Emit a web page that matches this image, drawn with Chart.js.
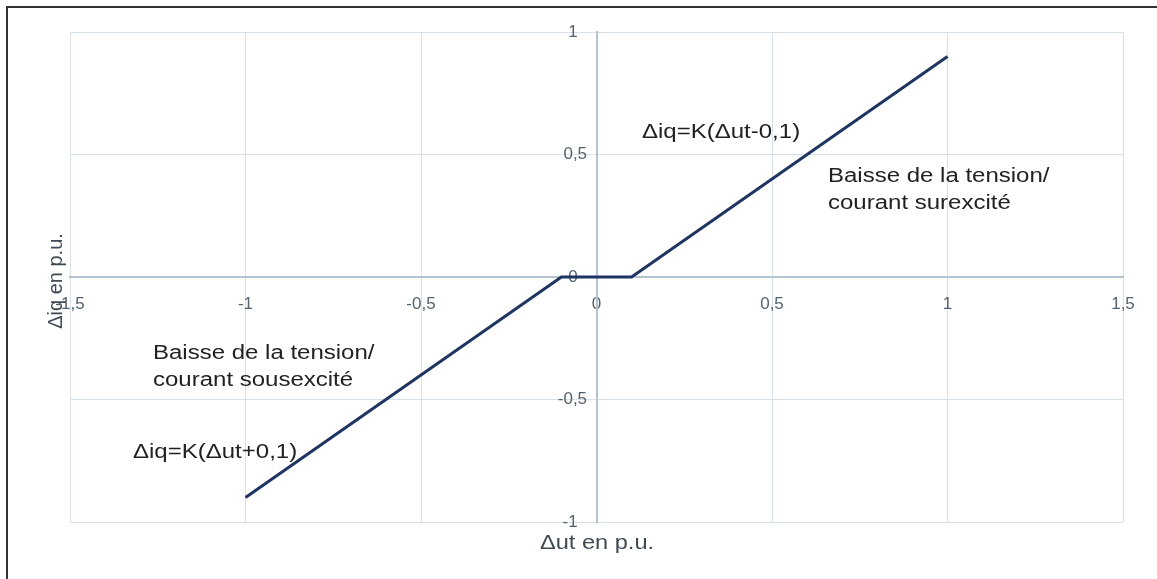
<!DOCTYPE html>
<html>
<head>
    <title>Δiq en fonction de Δut</title>
    <style>
        body {
            margin: 0;
            padding: 0;
            background: #ffffff;
        }
        #wrap {
            width: 1157px;
            height: 579px;
        }
    </style>
    <script src="https://cdn.jsdelivr.net/npm/chart.js"></script>
</head>
<body>
    <div id="wrap">
        <canvas id="statismChart" width="1157" height="579"></canvas>
    </div>

    <script>
        // characteristic points (Δut, Δiq)
        const deltaUt = [-1, -0.1, 0.1, 1];
        const deltaIq = [-0.9, 0, 0, 0.9];

        // tick labels, French decimal comma
        const xTickLabels = ['-1,5', '-1', '-0,5', '0', '0,5', '1', '1,5'];
        const yTickLabels = ['-1', '-0,5', '0', '0,5', '1'];

        const xTitle = 'Δut en p.u.';
        const yTitle = 'Δiq en p.u.';
        const notes = [
            'Δiq=K(Δut-0,1)',
            'Baisse de la tension/',
            'courant surexcité',
            'Baisse de la tension/',
            'courant sousexcité',
            'Δiq=K(Δut+0,1)'
        ];

        const gridColor = '#d6e1e9';
        const axisColor = '#b3c4d0';
        const tickColor = '#52626f';
        const fontFamily = '"Liberation Sans", Arial, sans-serif';

        // draws stretched text (the source picture is widened horizontally)
        const stretchText = (ctx, text, x, y, size, color, stretch) => {
            ctx.save();
            ctx.translate(x, y);
            ctx.scale(stretch, 1);
            ctx.font = size + 'px ' + fontFamily;
            ctx.fillStyle = color;
            ctx.textBaseline = 'middle';
            ctx.fillText(text, 0, 0);
            ctx.restore();
        };

        const decorations = {
            id: 'decorations',
            beforeDraw(chart) {
                const ctx = chart.ctx;
                ctx.save();
                ctx.fillStyle = '#ffffff';
                ctx.fillRect(0, 0, chart.width, chart.height);
                ctx.restore();
            },
            afterDraw(chart) {
                const ctx = chart.ctx;

                // picture frame (only left and top edges are visible)
                ctx.save();
                ctx.strokeStyle = '#333333';
                ctx.lineWidth = 2;
                ctx.beginPath();
                ctx.moveTo(7, chart.height);
                ctx.lineTo(7, 7);
                ctx.lineTo(chart.width, 7);
                ctx.stroke();
                ctx.restore();

                // axis titles
                ctx.save();
                ctx.font = '20px ' + fontFamily;
                const w = ctx.measureText(xTitle).width * 1.18;
                ctx.restore();
                stretchText(ctx, xTitle, 597 - w / 2, 543, 20, '#3f4a55', 1.18);

                ctx.save();
                ctx.translate(56, 281);
                ctx.rotate(-Math.PI / 2);
                ctx.font = '20px ' + fontFamily;
                ctx.fillStyle = '#3f4a55';
                ctx.textAlign = 'center';
                ctx.textBaseline = 'middle';
                ctx.fillText(yTitle, 0, 0);
                ctx.restore();

                // annotations
                stretchText(ctx, notes[0], 642, 132, 20, '#222222', 1.2);
                stretchText(ctx, notes[1], 828, 176, 20, '#222222', 1.2);
                stretchText(ctx, notes[2], 828, 203, 20, '#222222', 1.2);
                stretchText(ctx, notes[3], 153, 353, 20, '#222222', 1.2);
                stretchText(ctx, notes[4], 153, 380, 20, '#222222', 1.2);
                stretchText(ctx, notes[5], 133, 452, 20, '#222222', 1.2);
            }
        };

        const ctx = document.getElementById('statismChart').getContext('2d');
        const chart = new Chart(ctx, {
            type: 'scatter',
            data: {
                datasets: [{
                    data: deltaUt.map((x, i) => ({ x: x, y: deltaIq[i] })),
                    showLine: true,
                    borderColor: '#1e3564',
                    borderWidth: 3,
                    pointRadius: 0,
                    tension: 0
                }]
            },
            options: {
                responsive: false,
                animation: false,
                devicePixelRatio: 1,
                layout: {
                    padding: { left: 70, top: 32, right: 34, bottom: 57 }
                },
                plugins: {
                    legend: { display: false },
                    tooltip: { enabled: false }
                },
                scales: {
                    x: {
                        type: 'linear',
                        min: -1.5,
                        max: 1.5,
                        position: { y: 0 },
                        grid: { color: gridColor, drawTicks: false },
                        border: { color: axisColor, width: 2 },
                        ticks: {
                            stepSize: 0.5,
                            padding: 17,
                            color: tickColor,
                            font: { size: 17, family: fontFamily },
                            callback: (value, index) => xTickLabels[index]
                        }
                    },
                    y: {
                        type: 'linear',
                        min: -1,
                        max: 1,
                        position: { x: 0 },
                        grid: { color: gridColor, drawTicks: false },
                        border: { color: axisColor, width: 2 },
                        ticks: {
                            stepSize: 0.5,
                            color: tickColor,
                            font: { size: 17, family: fontFamily },
                            // trailing spaces keep the labels off the vertical axis
                            callback: (value, index) => {
                                const label = yTickLabels[index];
                                return label + (label.length <= 2 ? '    ' : '  ');
                            }
                        }
                    }
                }
            },
            plugins: [decorations]
        });
    </script>
</body>
</html>
